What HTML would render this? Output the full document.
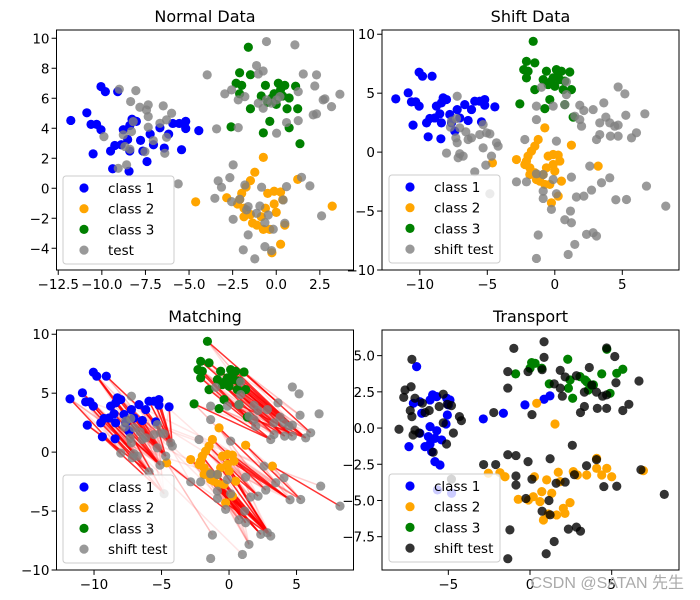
<!DOCTYPE html>
<html><head><meta charset="utf-8"><style>
html,body{margin:0;padding:0;background:#fff;}
svg{display:block;font-family:"DejaVu Sans","Liberation Sans",sans-serif;}
</style></head><body>
<svg id="fig" width="700" height="600" viewBox="0 0 700 600">
<rect width="700" height="600" fill="#fff"/>
<text x="684" y="588" font-size="16" fill="#aaa" text-anchor="end" font-family="'Liberation Sans','Noto Sans CJK SC',sans-serif">CSDN @SATAN 先生</text>
</svg>
<script>
const class1=[[-11.78,4.52],[-10.86,5.03],[-10.62,4.26],[-10.3,4.26],[-10.05,3.9],[-10.05,6.78],[-9.8,6.44],[-9.09,6.44],[-10.5,2.29],[-9.38,1.3],[-8.44,1.13],[-9.5,2.48],[-9.26,2.85],[-8.89,2.9],[-8.52,3.25],[-8.27,4.6],[-8.4,4.18],[-8.02,4.46],[-8.4,2.48],[-7.78,3.19],[-7.41,1.78],[-7.23,3.61],[-6.67,4.03],[-6.42,2.68],[-6.17,3.61],[-5.93,4.32],[-5.56,4.32],[-5.19,4.46],[-5.19,3.98],[-4.44,3.84],[-5.43,2.57],[-7.65,2.48],[-7.04,2.9],[-8.77,3.9]];
const class2=[[-0.74,2.06],[-1.23,1.07],[-1.48,0.51],[-1.73,0.08],[-1.98,-0.34],[-2.1,-0.76],[-2.84,-0.63],[-2.22,-1.05],[-1.85,-1.33],[-1.48,-1.75],[-1.36,-2.32],[-1.11,-2.46],[-0.86,-1.9],[-0.62,-1.33],[-0.49,-0.34],[-0.12,-0.2],[0.25,-0.25],[0.37,-0.76],[-0.12,-1.05],[0,-1.61],[0.49,-2.46],[-0.37,-2.74],[1.23,0.59],[3.21,-1.19],[-4.62,-0.91],[-0.25,-4.3],[0.25,-3.73],[-1.85,-1.9],[-0.74,-2.74]];
const class3=[[-1.6,9.4],[-2.1,7.7],[-1.48,7.57],[-2.3,7.0],[-2.1,6.3],[-1.98,6.86],[-0.62,6.86],[-0.86,6.15],[0.12,7.0],[0.49,6.86],[1.11,6.8],[-0.12,6.3],[0.37,6.15],[0.74,6.02],[1.23,5.3],[0.62,5.3],[0,5.59],[-0.49,5.73],[-1.48,5.3],[-0.37,4.46],[-0.74,3.69],[-2.59,4.09],[1.36,2.97],[0.74,4.03],[0.25,6.58],[-0.25,6.02]];
const testPts=[[-3.96,7.56],[-0.56,9.78],[1.07,9.56],[-1.13,8.18],[-0.75,7.82],[-1.03,7.62],[1.55,7.62],[2.31,7.56],[-2.95,6.29],[-2.56,6.56],[-2.18,5.89],[-1.8,6.11],[-1.03,5.67],[-0.75,5.33],[-0.56,5.89],[0.02,5.89],[0.21,6.11],[-0.27,5.67],[1.26,6.44],[2.21,6.82],[2.69,5.89],[2.79,5.96],[3.17,5.44],[3.65,6.27],[2.31,4.96],[2.12,4.89],[0.59,4.38],[1.26,4.51],[-3.42,3.96],[-2.18,4.04],[0.02,3.67],[-9.0,6.6],[-8.05,6.51],[-8.35,5.78],[-7.82,5.4],[-7.44,5.22],[-7.34,5.56],[-7.34,4.78],[-6.48,5.49],[-6.0,5.0],[-6.29,4.56],[-6.67,4.33],[-7.34,4.07],[-8.2,4.44],[-8.3,3.78],[-8.77,3.56],[-9.88,3.44],[-8.68,2.78],[-8.39,2.6],[-7.53,2.44],[-7.05,3.18],[-6.29,3.4],[-6.39,2.33],[-5.62,0.29],[-8.58,1.56],[-9.06,1.33],[-2.47,1.56],[-2.66,0.71],[-3.33,0.49],[-3.14,0.07],[-1.8,0.22],[-0.84,0.07],[0.59,0.11],[1.45,0.73],[1.93,0.16],[-3.52,-0.67],[-2.56,-0.89],[-2.09,-0.73],[-1.61,-1.22],[-0.94,-1.18],[-1.13,-1.67],[-2.47,-2.07],[-1.7,-1.44],[-0.65,-2.29],[-0.17,-2.73],[0.49,-2.33],[-1.61,-3.11],[-1.89,-4.11],[-1.23,-4.71],[-0.65,-3.89],[-0.27,-4.16],[2.6,-1.84],[0.4,-0.78],[-0.46,-1.78]];
const shiftTest=[[-7.23,4.74],[-7.28,2.85],[-7.65,2.63],[-7.73,2.12],[-7.04,2.06],[-7.33,1.21],[-7.23,0.79],[-8.02,-0.08],[-7.04,-0.14],[-6.79,-0.34],[-7.16,-0.48],[-6.59,1.72],[-6.42,1.07],[-6.17,1.21],[-5.93,-1.67],[-5.31,2.34],[-5.56,1.49],[-5.06,1.64],[-4.81,1.55],[-5.31,0.36],[-4.69,-0.34],[-5.11,-1.1],[-4.32,0.79],[-4.2,0.51],[-4.81,-3.53],[-1.36,3.9],[-1.36,2.76],[-0.99,5.5],[-0.12,3.9],[0.74,4.03],[0.86,4.88],[0.86,5.96],[-2.22,1.07],[0.12,0.93],[-2.84,-2.52],[-2.1,-2.52],[-1.36,-1.84],[-0.86,-1.9],[-0.86,-3.31],[-0.86,-3.93],[-0.12,-2.32],[0.12,-3.53],[-0.25,-4.86],[1.23,-2.12],[1.16,-5.0],[0.74,-5.74],[1.23,-5.99],[1.6,-3.81],[2.15,-3.73],[2.72,-3.22],[2.59,-1.19],[3.46,-2.6],[4.07,-2.18],[4.52,-4.04],[5.31,-4.02],[6.79,-2.88],[8.22,-4.58],[-1.23,-7.03],[0.99,-8.68],[1.48,-7.83],[2.35,-6.98],[2.84,-6.84],[3.09,-7.12],[-1.36,-9.02],[1.85,3.98],[2.15,3.53],[1.85,2.76],[1.98,2.2],[2.84,3.61],[3.63,4.18],[4.69,5.53],[5.19,4.94],[5.26,3.13],[6.67,3.25],[3.33,2.48],[3.78,2.97],[4.07,2.48],[4.44,2.2],[4.69,2.29],[3.33,1.49],[3.09,1.07],[4.12,1.36],[4.69,1.36],[6.05,1.64],[5.68,1.21],[1.48,3.05]];
const trans1=[[-6.94,4.24],[-7.14,1.71],[-6.74,1.82],[-6.63,1.02],[-6.12,1.94],[-5.96,2.29],[-5.71,2.17],[-5.1,2.06],[-5.0,1.6],[-5.06,0.9],[-5.14,0.28],[-6.12,0.1],[-5.71,-0.18],[-6.22,-0.59],[-6.43,-1.28],[-6.12,-1.1],[-5.82,-0.71],[-6.02,-1.63],[-5.82,-2.32],[-5.51,-2.55],[-7.41,-1.28],[-6.74,-0.36],[-2.86,0.63],[-1.63,1.02],[-0.31,1.6],[0.86,1.99],[1.22,2.22],[-4.9,1.94],[-5.41,-0.82],[-5.67,-4.27],[-4.8,-4.5]];
const trans2=[[0.41,1.71],[1.53,0.28],[-2.55,-3.12],[-1.84,-3.08],[-1.53,-3.36],[-0.72,-4.92],[-0.1,-4.97],[0.2,-4.74],[0.61,-5.08],[0.27,-3.36],[1.02,-3.58],[1.33,-4.5],[1.73,-3.05],[1.84,-3.7],[2.45,-5.15],[2.04,-5.54],[1.63,-6.0],[0.82,-6.35],[1.12,-5.93],[2.65,-3.01],[2.9,-3.24],[3.47,-3.24],[4.08,-2.09],[4.08,-2.78],[4.7,-2.78],[4.39,-3.24],[5.0,-3.36],[6.94,-2.94],[0.72,-4.39],[2.14,-5.89]];
const trans3=[[-0.88,3.74],[0.1,4.52],[0.31,4.47],[0.72,4.13],[1.18,3.05],[2.31,4.75],[2.45,3.32],[2.35,2.75],[2.61,2.06],[3.06,3.55],[3.47,3.2],[3.88,2.98],[3.57,2.63],[4.39,3.74],[4.9,2.4],[4.7,5.44],[5.31,3.78],[5.68,4.06],[3.37,3.32],[0,4.13]];
const s1XTicks=[-12.5,-10,-7.5,-5,-2.5,0,2.5];
const s1YTicks=[-4,-2,0,2,4,6,8,10];
const s2XTicks=[-10,-5,0,5];
const s2YTicks=[-10,-5,0,5,10];
const s4XTicks=[-5,0,5];
const s4YTicks=[-7.5,-5,-2.5,0,2.5,5];
const s1XLabels=["−12.5","−10.0","−7.5","−5.0","−2.5","0.0","2.5"];
const s4YLabels=["−7.5","−5.0","−2.5","0.0","2.5","5.0"];

const NS="http://www.w3.org/2000/svg";
const fig=document.getElementById('fig');
const wm=fig.lastElementChild;
function mk(tag,attrs,parent){const e=document.createElementNS(NS,tag);for(const k in attrs)e.setAttribute(k,attrs[k]);(parent||fig).insertBefore(e,parent?null:wm);return e;}
function fmt(v){return (v<0?"−":"")+Math.abs(v);}

function panel(p){
  const g=mk('g',{});
  
  
  const sx=v=>p.left+(v-p.xmin)/(p.xmax-p.xmin)*p.w;
  const sy=v=>p.top+(p.ymax-v)/(p.ymax-p.ymin)*p.h;
  const t=mk('text',{x:p.left+p.w/2,y:p.top-8,'font-size':16,'text-anchor':'middle',fill:'#000'},g);
  t.textContent=p.title;
  
  
  p.xt.forEach((v,i)=>{const x=sx(v);
    const l=mk('line',{x1:x,x2:x,y1:p.top+p.h,y2:p.top+p.h+4.9,stroke:'#000','stroke-width':1},g);
    
    
    const tx=mk('text',{x:x,y:p.top+p.h+19,'font-size':13.5,'text-anchor':'middle'},g);
    tx.textContent=p.xl?p.xl[i]:fmt(v);
    
    });
  p.yt.forEach((v,i)=>{const y=sy(v);
    const l=mk('line',{x1:p.left-4.9,x2:p.left,y1:y,y2:y,stroke:'#000','stroke-width':1},g);
    
    
    const tx=mk('text',{x:p.left-7,y:y+5,'font-size':13.5,'text-anchor':'end'},g);
    tx.textContent=p.yl?p.yl[i]:fmt(v);
    
    });
  const cg=mk('g',{},g);
  
  
  const clipId='c'+p.name;
  const cp=mk('clipPath',{id:clipId},g);mk('rect',{x:p.left,y:p.top,width:p.w,height:p.h},cp);
  cg.setAttribute('clip-path','url(#'+clipId+')');
  return {g,cg,sx,sy,p};
}
function scatter(P,data,color,op,name){
  data.forEach(d=>{const c=mk('circle',{cx:P.sx(d[0]),cy:P.sy(d[1]),r:4.6,fill:color,'fill-opacity':op},P.cg);
    
    });
}
function frame(P){const p=P.p;
  const r=mk('rect',{x:p.left,y:p.top,width:p.w,height:p.h,fill:'none',stroke:'#000','stroke-width':1},P.g);
  
  }
function legend(P,x,y,entries){
  const lg=mk('g',{},P.g);
  
  
  mk('rect',{x:x,y:y,width:111,height:88,rx:3,fill:'#fff','fill-opacity':0.8,stroke:'#ccc'},lg);
  entries.forEach((e,i)=>{const yy=y+12+i*20.7;
    const c=mk('circle',{cx:x+21,cy:yy,r:4.6,fill:e[1],'fill-opacity':e[2]},lg);
    
    
    const t=mk('text',{x:x+45,y:yy+5,'font-size':13.5},lg);t.textContent=e[0];
    
    });
}
const base=[["class 1","blue",1],["class 2","orange",1],["class 3","green",1]];

// Panel 1
const P1=panel({name:'normal-data-panel',title:'Normal Data',left:56.5,top:30,w:297,h:240,xmin:-12.6,xmax:4.43,ymin:-5.45,ymax:10.55,xt:s1XTicks,xl:s1XLabels,yt:s1YTicks});
scatter(P1,class1,'blue',1,'class1-point');scatter(P1,class2,'orange',1,'class2-point');scatter(P1,class3,'green',1,'class3-point');scatter(P1,testPts,'gray',0.8,'test-point');
frame(P1);legend(P1,63,176,base.concat([["test","gray",0.8]]));

// Panel 2
const P2=panel({name:'shift-data-panel',title:'Shift Data',left:382,top:30,w:297,h:240,xmin:-12.8,xmax:9.2,ymin:-10,ymax:10.36,xt:s2XTicks,yt:s2YTicks});
scatter(P2,class1,'blue',1,'class1-point');scatter(P2,class2,'orange',1,'class2-point');scatter(P2,class3,'green',1,'class3-point');scatter(P2,shiftTest,'gray',0.8,'shift-test-point');
frame(P2);legend(P2,389,175,base.concat([["shift test","gray",0.8]]));

// Panel 3
const P3=panel({name:'matching-panel',title:'Matching',left:56.5,top:330,w:297,h:240,xmin:-12.78,xmax:9.22,ymin:-10,ymax:10.36,xt:s2XTicks,yt:s2YTicks});
function clusterOf(d){return d[0]<-3.5?0:(d[1]>0.5?2:1);}
function centroid(a){let x=0,y=0;a.forEach(d=>{x+=d[0];y+=d[1];});return [x/a.length,y/a.length];}
function drawLine(s,t,op){
  const l=mk('line',{x1:P3.sx(s[0]),y1:P3.sy(s[1]),x2:P3.sx(t[0]),y2:P3.sy(t[1]),stroke:'red','stroke-opacity':op,'stroke-width':1.5},P3.cg);
  
  
}
[class1,class2,class3].forEach((cls,ci)=>{
  const tg=shiftTest.filter(d=>clusterOf(d)===ci);
  const cs=centroid(cls),ct=centroid(tg);
  const off=[ct[0]-cs[0]+1.5,ct[1]-cs[1]-1.5];
  cls.forEach(s=>{
    const q=[s[0]+off[0],s[1]+off[1]];
    const r=tg.slice().sort((a,b)=>Math.hypot(a[0]-q[0],a[1]-q[1])-Math.hypot(b[0]-q[0],b[1]-q[1]));
    drawLine(s,r[0],0.8);drawLine(s,r[1],0.25);drawLine(s,r[3],0.12);
  });
  if(ci===0){
    const far=shiftTest.filter(d=>clusterOf(d)===1);
    cls.forEach((s,i)=>{if(i%3===0){const t=far[(i*7)%far.length];drawLine(s,t,0.1);}});
  }
});
scatter(P3,class1,'blue',1,'class1-point');scatter(P3,class2,'orange',1,'class2-point');scatter(P3,class3,'green',1,'class3-point');scatter(P3,shiftTest,'gray',0.8,'shift-test-point');
frame(P3);legend(P3,63,475,base.concat([["shift test","gray",0.8]]));

// Panel 4
const P4=panel({name:'transport-panel',title:'Transport',left:382,top:330,w:297,h:240,xmin:-9.06,xmax:9.12,ymin:-9.8,ymax:6.77,xt:s4XTicks,yt:s4YTicks,yl:s4YLabels});
scatter(P4,trans1,'blue',1,'class1-point');scatter(P4,trans2,'orange',1,'class2-point');scatter(P4,trans3,'green',1,'class3-point');scatter(P4,shiftTest,'black',0.8,'shift-test-point');
frame(P4);legend(P4,389,474,base.concat([["shift test","black",0.8]]));
</script>
</body></html>
